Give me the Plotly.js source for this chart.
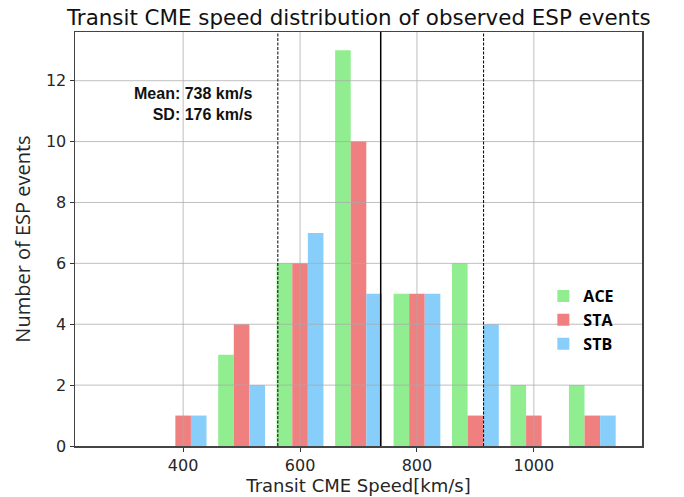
<!DOCTYPE html>
<html>
<head>
<meta charset="utf-8">
<script src="https://cdn.plot.ly/plotly-3.0.1.min.js"></script>
<style>html,body{margin:0;padding:0;background:#fff;}#chart{width:684px;height:497px;}</style>
</head>
<body>
<div id="chart"></div>
<script>
// Bin centres (km/s)
const binCenters = [400, 500, 600, 700, 800, 900, 1000, 1100];
// Counts per spacecraft
const aceCounts = [0, 3, 6, 13, 5, 6, 2, 2];
const staCounts = [1, 4, 6, 10, 5, 1, 1, 1];
const stbCounts = [1, 2, 7, 5, 5, 4, 0, 1];
const seriesNames = ['ACE', 'STA', 'STB'];
const seriesColors = ['#90EE90', '#F08080', '#87CEFA'];
// Statistics
const meanSpeed = 738;
const sdSpeed = 176;
const xTicks = [400, 600, 800, 1000];
const yTicks = [0, 2, 4, 6, 8, 10, 12];

const counts = [aceCounts, staCounts, stbCounts];
const traces = counts.map((c, i) => ({
  type: 'bar',
  x: binCenters,
  y: c,
  name: seriesNames[i],
  marker: {color: seriesColors[i], line: {width: 0}},
  hoverinfo: 'x+y+name'
}));

const tickFont = {family: 'DejaVu Sans, sans-serif', size: 16, color: '#262626'};
const gridColor = 'rgba(170,170,170,0.75)';

// gridlines drawn above the bars, as in the reference
const gridShapes = [];
xTicks.forEach(v => gridShapes.push({type: 'line', xref: 'x', yref: 'paper', x0: v, x1: v, y0: 0, y1: 1,
  line: {color: gridColor, width: 1}, layer: 'above'}));
yTicks.filter(v => v !== 0).forEach(v => gridShapes.push({type: 'line', xref: 'paper', yref: 'y', x0: 0, x1: 1, y0: v, y1: v,
  line: {color: gridColor, width: 1}, layer: 'above'}));

const statShapes = [
  {type: 'line', xref: 'x', yref: 'paper', x0: meanSpeed, x1: meanSpeed, y0: 0, y1: 1,
   line: {color: '#000', width: 1.5}, layer: 'above'},
  {type: 'line', xref: 'x', yref: 'paper', x0: meanSpeed - sdSpeed, x1: meanSpeed - sdSpeed, y0: 0, y1: 1,
   line: {color: '#000', width: 1, dash: '3px,1.5px'}, layer: 'above'},
  {type: 'line', xref: 'x', yref: 'paper', x0: meanSpeed + sdSpeed, x1: meanSpeed + sdSpeed, y0: 0, y1: 1,
   line: {color: '#000', width: 1, dash: '3px,1.5px'}, layer: 'above'}
];

const layout = {
  width: 684,
  height: 497,
  margin: {l: 75, r: 42, t: 32, b: 51, pad: 0},
  paper_bgcolor: '#ffffff',
  plot_bgcolor: '#ffffff',
  barmode: 'group',
  bargap: 0.2,
  bargroupgap: 0,
  title: {
    text: 'Transit CME speed distribution of observed ESP events',
    font: {family: 'DejaVu Sans, sans-serif', size: 21.4, color: '#111'},
    x: 0.5246, xanchor: 'center', y: 0.965, yanchor: 'middle'
  },
  xaxis: {
    range: [215, 1185],
    tickvals: xTicks,
    ticktext: xTicks.map(String),
    ticks: 'outside', ticklen: 4, tickwidth: 1, tickcolor: '#333',
    tickfont: tickFont,
    showgrid: false,
    showline: true, linecolor: '#444', linewidth: 1.5, mirror: true,
    zeroline: false,
    title: {text: 'Transit CME Speed[km/s]', font: {family: 'DejaVu Sans, sans-serif', size: 18, color: '#262626'}, standoff: 4}
  },
  yaxis: {
    range: [0, 13.6],
    tickvals: yTicks,
    ticktext: yTicks.map(String),
    ticks: 'outside', ticklen: 4, tickwidth: 1, tickcolor: '#333',
    tickfont: tickFont,
    showgrid: false,
    showline: true, linecolor: '#444', linewidth: 1.5, mirror: true,
    zeroline: false,
    title: {text: 'Number of ESP events', font: {family: 'Open Sans, sans-serif', size: 20, color: '#262626'}, standoff: 10}
  },
  legend: {
    x: 0.826, xanchor: 'left', y: 0.304, yanchor: 'middle',
    bgcolor: 'rgba(0,0,0,0)', borderwidth: 0,
    font: {family: 'Open Sans, sans-serif', size: 16, color: '#000', weight: 'bold'},
    tracegroupgap: 0, itemwidth: 30
  },
  shapes: gridShapes.concat(statShapes),
  annotations: [
    {xref: 'x', yref: 'y', x: 521, y: 11.25, xanchor: 'right', yanchor: 'middle', align: 'right',
     showarrow: false,
     text: '<b>Mean: ' + meanSpeed + ' km/s</b><br><b>SD: ' + sdSpeed + ' km/s</b>',
     font: {family: 'Liberation Sans, Arial, sans-serif', size: 16, color: '#111'}}
  ]
};

Plotly.newPlot('chart', traces, layout, {displayModeBar: false, staticPlot: true});
</script>
</body>
</html>
